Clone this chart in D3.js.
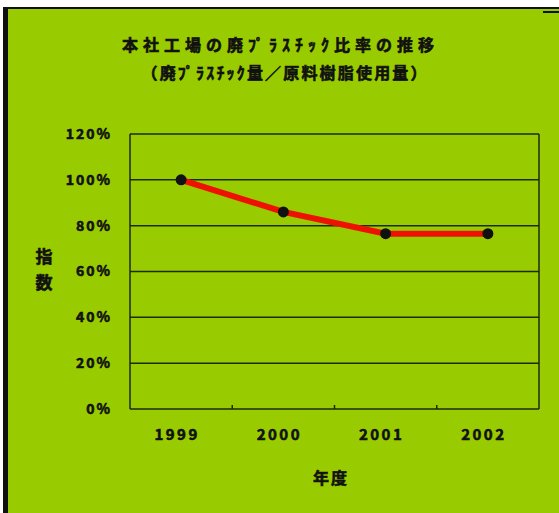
<!DOCTYPE html>
<html>
<head>
<meta charset="utf-8">
<script src="https://cdn.jsdelivr.net/npm/d3@7"></script>
<style>
  html, body { margin: 0; padding: 0; background: #fff; }
  svg { display: block; }
  text { font-family: "Noto Sans CJK JP", "DejaVu Sans", sans-serif; font-weight: bold; fill: #111; stroke: #111; stroke-width: 0.6px; }
</style>
</head>
<body>
<svg id="chart_svg" width="559" height="513"></svg>
<script>
// chart data
const years = ['1999', '2000', '2001', '2002'];
const ratios = [1.00, 0.86, 0.765, 0.765];
const yTicks = [0, 0.2, 0.4, 0.6, 0.8, 1.0, 1.2];
const titleLines = ['本社工場の廃ﾌﾟﾗｽﾁｯｸ比率の推移', '（廃ﾌﾟﾗｽﾁｯｸ量／原料樹脂使用量）'];
const xTitle = '年度';
const yTitle = ['指', '数'];

const width = 559;
const height = 513;

/**
 * Plot area in pixels
 */
const plot = { left: 130, right: 539, top: 134, bottom: 409 };

let svg = d3.select('#chart_svg');

/**
 * Background and frame
 */
svg.append('rect')
    .attr('x', 3).attr('y', 7)
    .attr('width', width - 3).attr('height', height - 7)
    .attr('fill', '#111');
svg.append('rect')
    .attr('x', 8).attr('y', 9)
    .attr('width', width - 8).attr('height', height - 9)
    .attr('fill', '#99cc00');
svg.append('rect')
    .attr('x', 543).attr('y', 11)
    .attr('width', 16).attr('height', 2)
    .attr('fill', '#111');

/**
 * Scales
 */
const xScale = d3.scaleBand()
    .domain(years)
    .range([plot.left, plot.right])
    .padding(0);

const yScale = d3.scaleLinear()
    .domain([0, 1.2])
    .range([plot.bottom, plot.top]);

const gridColor = '#1c2a05';

/**
 * Horizontal grid lines
 */
svg.append('g')
    .selectAll('line')
    .data(yTicks)
    .enter()
    .append('line')
    .attr('x1', plot.left)
    .attr('x2', plot.right)
    .attr('y1', (d) => yScale(d))
    .attr('y2', (d) => yScale(d))
    .attr('stroke', gridColor)
    .attr('stroke-width', 1.5);

/**
 * Plot frame sides
 */
svg.append('line')
    .attr('x1', plot.left).attr('x2', plot.left)
    .attr('y1', plot.top).attr('y2', plot.bottom)
    .attr('stroke', gridColor).attr('stroke-width', 1.5);
svg.append('line')
    .attr('x1', plot.right).attr('x2', plot.right)
    .attr('y1', plot.top).attr('y2', plot.bottom)
    .attr('stroke', gridColor).attr('stroke-width', 1.5);

/**
 * x-axis: ticks between categories, labels centered
 */
let g_x_axis = svg.append('g')
    .attr('transform', 'translate(0,' + plot.bottom + ')');

g_x_axis.selectAll('.x_tick')
    .data(years.slice(1))
    .enter()
    .append('line')
    .attr('class', 'x_tick')
    .attr('x1', (d) => xScale(d))
    .attr('x2', (d) => xScale(d))
    .attr('y1', 0)
    .attr('y2', -4)
    .attr('stroke', gridColor)
    .attr('stroke-width', 1.5);

g_x_axis.selectAll('.x_label')
    .data(years)
    .enter()
    .append('text')
    .attr('class', 'x_label')
    .attr('x', (d) => xScale(d) + xScale.bandwidth() / 2 - 4)
    .attr('y', 31)
    .attr('text-anchor', 'middle')
    .attr('font-size', 15)
    .attr('letter-spacing', 2.5)
    .text((d) => d);

/**
 * y-axis labels
 */
svg.append('g')
    .selectAll('.y_label')
    .data(yTicks)
    .enter()
    .append('text')
    .attr('class', 'y_label')
    .attr('x', 112)
    .attr('y', (d) => yScale(d))
    .attr('dy', '0.35em')
    .attr('text-anchor', 'end')
    .attr('font-size', 14)
    .attr('letter-spacing', 2)
    .text((d) => d3.format('.0%')(d));

/**
 * Data line and markers
 */
const line = d3.line()
    .x((d, i) => xScale(years[i]) + xScale.bandwidth() / 2)
    .y((d) => yScale(d));

svg.append('path')
    .datum(ratios)
    .attr('d', line)
    .attr('fill', 'none')
    .attr('stroke', '#ee1100')
    .attr('stroke-width', 6);

svg.append('g')
    .selectAll('circle')
    .data(ratios)
    .enter()
    .append('circle')
    .attr('r', 5.5)
    .attr('cx', (d, i) => xScale(years[i]) + xScale.bandwidth() / 2)
    .attr('cy', (d) => yScale(d))
    .attr('fill', '#111');

/**
 * Titles
 */
svg.append('text')
    .attr('x', 278)
    .attr('y', 45)
    .attr('dy', '0.35em')
    .attr('text-anchor', 'middle')
    .attr('font-size', 16)
    .attr('textLength', 312)
    .attr('lengthAdjust', 'spacing')
    .text(titleLines[0]);

svg.append('text')
    .attr('x', 284)
    .attr('y', 73)
    .attr('dy', '0.35em')
    .attr('text-anchor', 'middle')
    .attr('font-size', 16)
    .attr('textLength', 285)
    .attr('lengthAdjust', 'spacing')
    .text(titleLines[1]);

svg.append('text')
    .attr('x', 331)
    .attr('y', 478)
    .attr('dy', '0.35em')
    .attr('text-anchor', 'middle')
    .attr('font-size', 16)
    .attr('letter-spacing', 2)
    .text(xTitle);

svg.append('g')
    .selectAll('.y_title')
    .data(yTitle)
    .enter()
    .append('text')
    .attr('class', 'y_title')
    .attr('x', 44)
    .attr('y', (d, i) => 257 + i * 26)
    .attr('dy', '0.35em')
    .attr('text-anchor', 'middle')
    .attr('font-size', 17)
    .text((d) => d);
</script>
</body>
</html>
